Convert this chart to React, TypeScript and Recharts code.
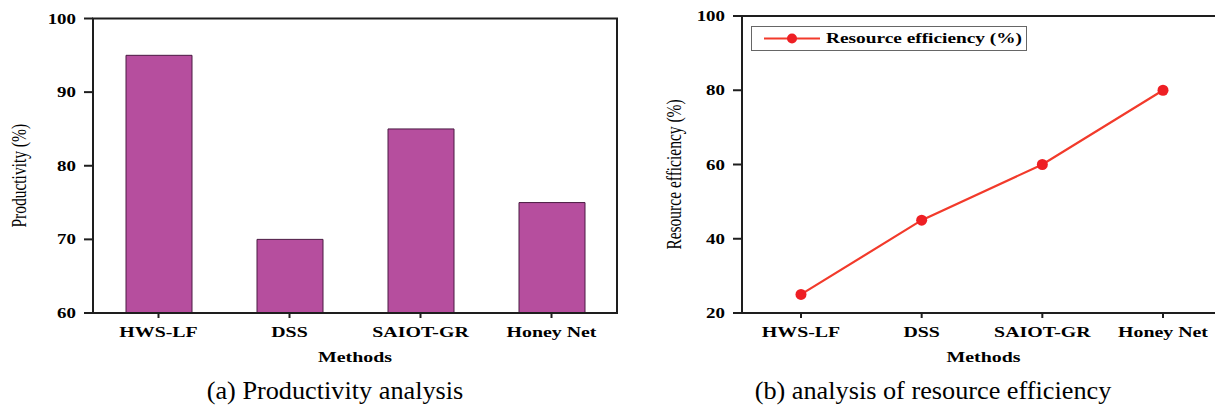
import {
  BarChart,
  Bar,
  LineChart,
  Line,
  XAxis,
  YAxis,
  ReferenceArea,
  ReferenceLine,
  Legend,
} from "recharts";

// Two side-by-side panels: (a) productivity bars, (b) resource efficiency line.

const methods = ["HWS-LF", "DSS", "SAIOT-GR", "Honey Net"];
const productivity = [95, 70, 85, 75];
const resourceEfficiency = [25, 45, 60, 80];
const productivityTicks = [60, 70, 80, 90, 100];
const efficiencyTicks = [20, 40, 60, 80, 100];

const barData = methods.map((m, i) => ({ method: m, productivity: productivity[i] }));
const lineData = methods.map((m, i) => ({ method: m, efficiency: resourceEfficiency[i] }));

const SERIF = "'Liberation Serif', 'Times New Roman', 'DejaVu Serif', serif";
const STRETCH = 1.42;
const AXIS = "#1e1e1e";
const BAR_FILL = "#b64e9e";
const LINE_RED = "#f23a2b";

function XTick(props: any) {
  const { x, y, payload } = props;
  return (
    <g transform={`translate(${x},${y})`}>
      <text
        transform={`scale(${STRETCH},1)`}
        dy={17}
        textAnchor="middle"
        style={{ fontFamily: SERIF }}
        fontWeight="bold"
        fontSize={14}
        fill="#000"
      >
        {payload.value}
      </text>
    </g>
  );
}

function YTick(props: any) {
  const { x, y, payload } = props;
  return (
    <g transform={`translate(${x},${y})`}>
      <text
        transform={`scale(1.35,1)`}
        dy={5}
        textAnchor="end"
        style={{ fontFamily: SERIF }}
        fontWeight="bold"
        fontSize={14}
        fill="#000"
      >
        {payload.value}
      </text>
    </g>
  );
}

function XTitle(props: any) {
  const vb = props.viewBox;
  const cx = vb.x + vb.width / 2;
  return (
    <g transform={`translate(${cx},${vb.y + 49})`}>
      <text
        transform={`scale(${STRETCH},1)`}
        textAnchor="middle"
        style={{ fontFamily: SERIF }}
        fontWeight="bold"
        fontSize={14}
        fill="#000"
      >
        {props.text}
      </text>
    </g>
  );
}

function YTitle(props: any) {
  const vb = props.viewBox;
  const cy = vb.y + vb.height / 2 + 10;
  return (
    <g transform={`translate(${props.left},${cy}) scale(1.4,1) rotate(-90)`}>
      <text textAnchor="middle" style={{ fontFamily: SERIF }} fontSize={15.5} fill="#000">
        {props.text}
      </text>
    </g>
  );
}

function EfficiencyLegend(props: any) {
  const entry = props.payload?.[0];
  const color = entry?.color ?? LINE_RED;
  return (
    <div
      style={{
        width: 276,
        height: 25,
        border: "1px solid #666",
        boxSizing: "border-box",
        display: "flex",
        alignItems: "center",
        background: "#fff",
      }}
    >
      <svg width={74} height={23} style={{ flex: "none" }}>
        <line x1={12} y1={11.5} x2={68} y2={11.5} stroke={color} strokeWidth={2} />
        <circle cx={40} cy={11.5} r={5} fill="#ee1f24" />
      </svg>
      <span
        style={{
          display: "inline-block",
          fontFamily: SERIF,
          fontWeight: "bold",
          fontSize: 14,
          color: "#000",
          whiteSpace: "nowrap",
          transform: "scaleX(1.38)",
          transformOrigin: "left center",
        }}
      >
        {entry?.value}
      </span>
    </div>
  );
}

function Caption(props: { text: string; center: number }) {
  return (
    <div
      style={{
        position: "absolute",
        left: props.center,
        top: 378,
        lineHeight: "25px",
        fontFamily: SERIF,
        fontSize: 25,
        color: "#000",
        whiteSpace: "nowrap",
        transform: "translateX(-50%) scaleX(1.05)",
      }}
    >
      {props.text}
    </div>
  );
}

export default function App() {
  return (
    <div
      style={{
        position: "fixed",
        left: 0,
        top: 0,
        width: 1215,
        height: 410,
        overflow: "hidden",
        background: "#fff",
      }}
    >
      <div style={{ position: "absolute", left: 0, top: 0 }}>
        <BarChart
          width={640}
          height={410}
          data={barData}
          margin={{ top: 18.5, right: 23, bottom: 37, left: 0 }}
          barSize={66}
        >
          <XAxis
            dataKey="method"
            height={60}
            stroke={AXIS}
            strokeWidth={2}
            tickSize={5}
            tickMargin={2}
            tick={<XTick />}
            label={<XTitle text="Methods" />}
          />
          <YAxis
            width={93}
            domain={[60, 100]}
            ticks={productivityTicks}
            stroke={AXIS}
            strokeWidth={2}
            tickSize={9}
            tickMargin={8}
            tick={<YTick />}
            label={<YTitle text="Productivity (%)" left={25.5} />}
          />
          <ReferenceArea
            y1={60}
            y2={100}
            fill="none"
            stroke={AXIS}
            strokeWidth={2}
            ifOverflow="visible"
          />
          <Bar
            dataKey="productivity"
            fill={BAR_FILL}
            stroke="#4a1a42"
            strokeWidth={1}
            isAnimationActive={false}
          />
        </BarChart>
      </div>

      <div style={{ position: "absolute", left: 620, top: 0 }}>
        <LineChart
          width={615}
          height={410}
          data={lineData}
          margin={{ top: 16, right: 10, bottom: 37, left: 0 }}
        >
          <XAxis
            dataKey="method"
            height={60}
            padding={{ left: 59, right: 62 }}
            stroke={AXIS}
            strokeWidth={2}
            tickSize={5}
            tickMargin={2}
            tick={<XTick />}
            label={<XTitle text="Methods" />}
          />
          <YAxis
            width={122}
            domain={[20, 100]}
            ticks={efficiencyTicks}
            stroke={AXIS}
            strokeWidth={2}
            tickSize={9}
            tickMargin={8}
            tick={<YTick />}
            label={<YTitle text="Resource efficiency (%)" left={61} />}
          />
          <ReferenceLine y={100} stroke={AXIS} strokeWidth={2} />
          <Legend
            layout="horizontal"
            verticalAlign="middle"
            align="center"
            wrapperStyle={{ left: 131, top: 26, width: 276, height: 25 }}
            content={(p: any) => <EfficiencyLegend payload={p.payload} />}
          />
          <Line
            type="linear"
            dataKey="efficiency"
            name="Resource efficiency (%)"
            stroke={LINE_RED}
            strokeWidth={2.2}
            dot={{ r: 5.5, fill: "#ee1f24", stroke: "none" }}
            isAnimationActive={false}
          />
        </LineChart>
      </div>

      <Caption text="(a) Productivity analysis" center={335} />
      <Caption text="(b) analysis of resource efficiency" center={933} />
    </div>
  );
}
